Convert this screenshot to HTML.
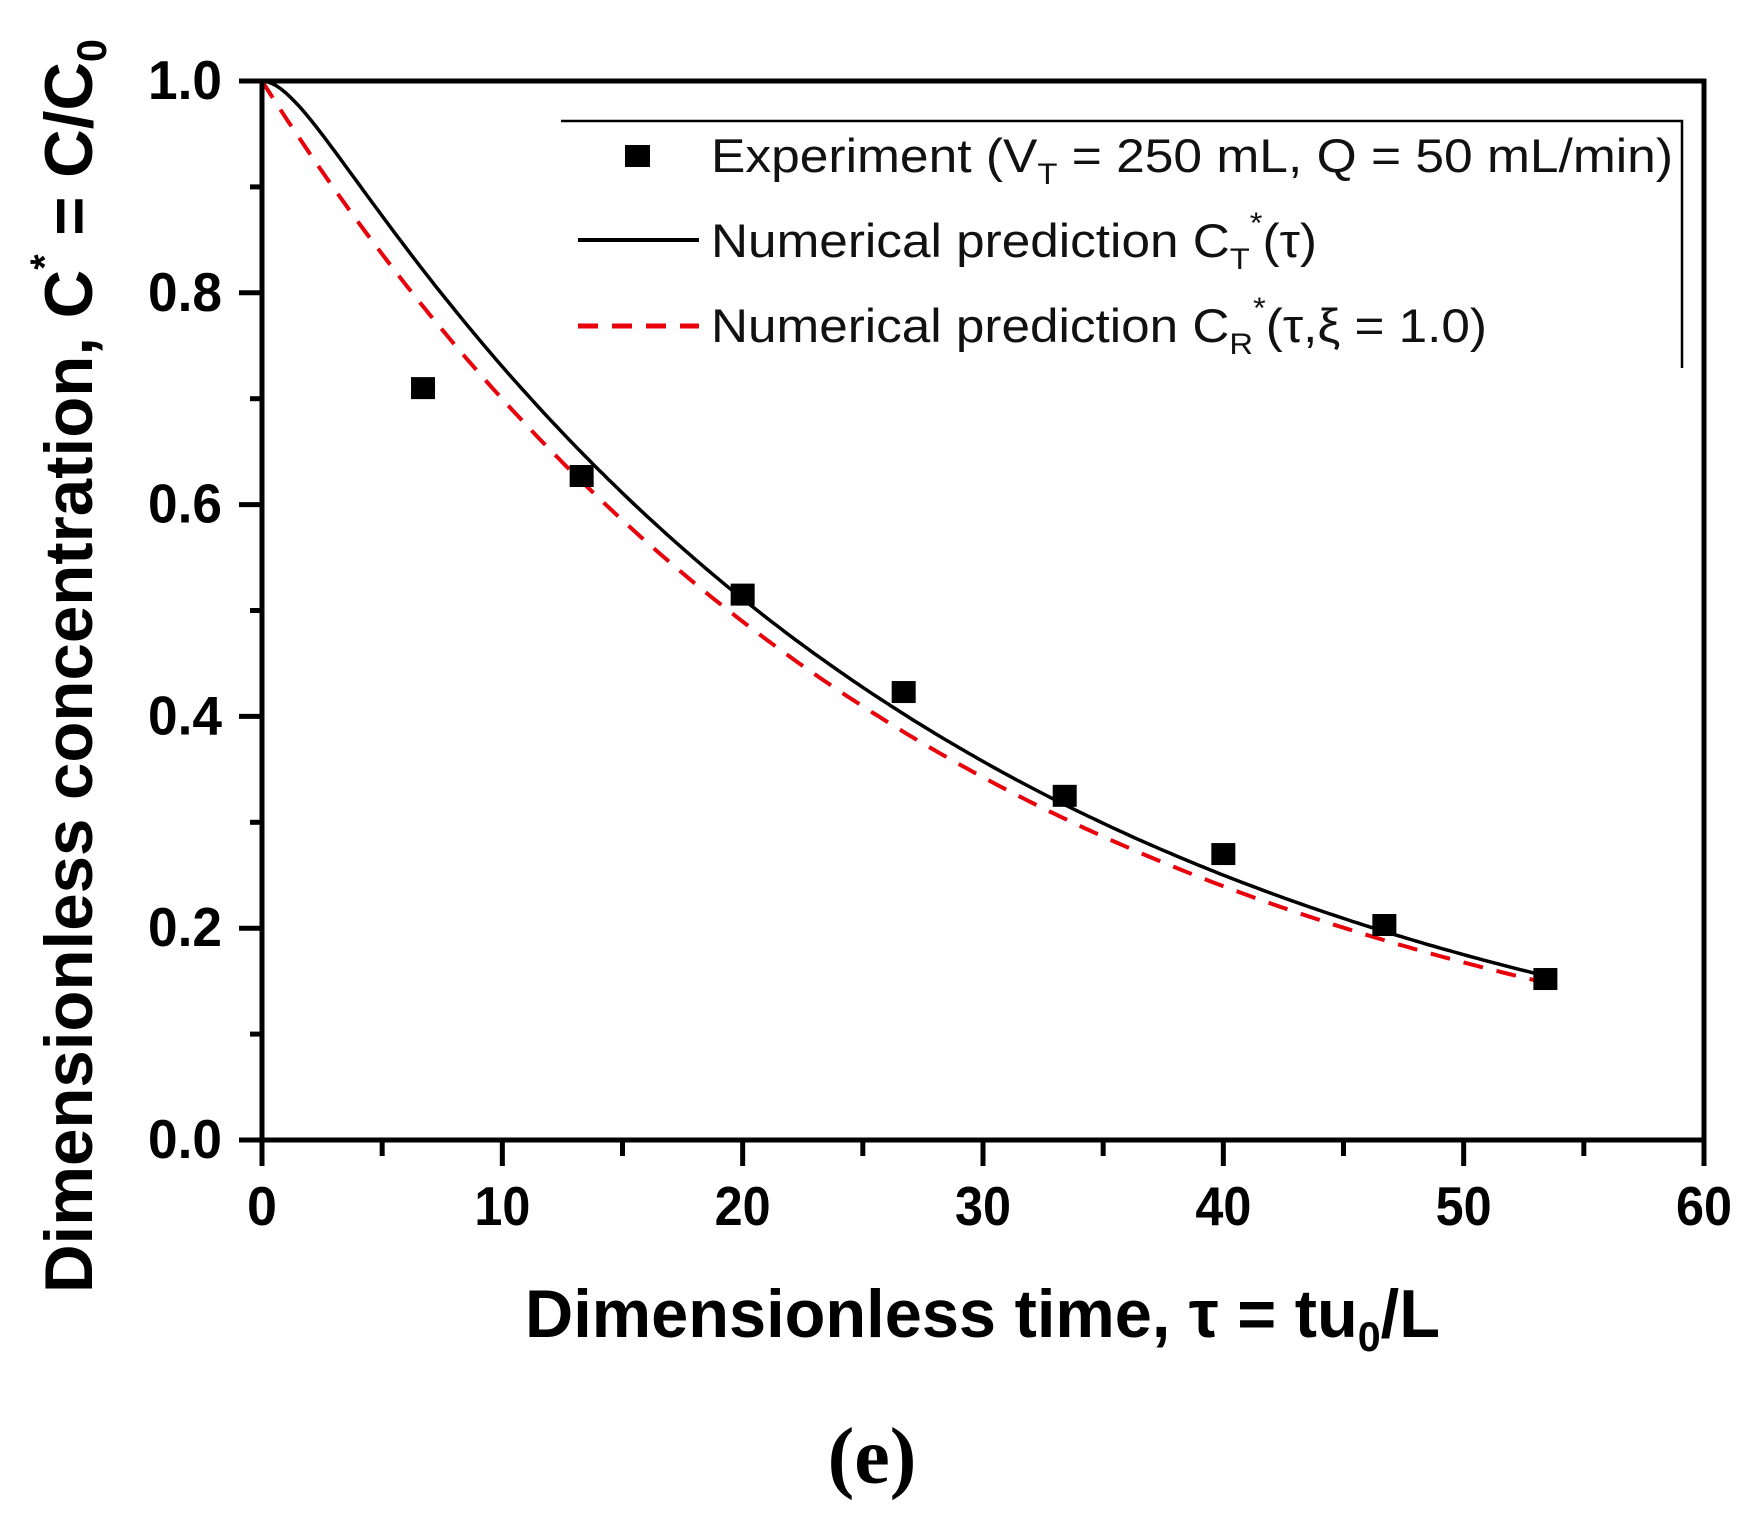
<!DOCTYPE html>
<html><head><meta charset="utf-8"><style>
html,body{margin:0;padding:0;background:#fff;}
svg{display:block;}
text{font-family:"Liberation Sans",Arial,sans-serif;}
</style></head><body>
<svg id="s" width="1760" height="1528" viewBox="0 0 1760 1528" xmlns="http://www.w3.org/2000/svg">
<rect width="1760" height="1528" fill="#fff"/>
<g id="ticks" stroke="#000" stroke-width="5"></g>
<path id="cR" fill="none" stroke="#e8000b" stroke-width="4" stroke-dasharray="20,14"/>
<path id="cT" fill="none" stroke="#000" stroke-width="3.5"/>
<g id="pts" fill="#000"></g>
<rect x="262" y="81" width="1442" height="1059" fill="none" stroke="#000" stroke-width="5"/>
<path d="M561 121 H1682 V368" fill="none" stroke="#000" stroke-width="2.5"/>
<rect x="625" y="145" width="25" height="22" fill="#000"/>
<line x1="578" y1="240" x2="699" y2="240" stroke="#000" stroke-width="4"/>
<line x1="578" y1="326" x2="699" y2="326" stroke="#e8000b" stroke-width="5" stroke-dasharray="20,14"/>
<g font-size="47" fill="#111">
<text x="711" y="172" textLength="962" lengthAdjust="spacingAndGlyphs">Experiment (V<tspan font-size="30" dy="12">T</tspan><tspan dy="-12"> = 250 mL, Q = 50 mL/min)</tspan></text>
<text x="711" y="257" textLength="606" lengthAdjust="spacingAndGlyphs">Numerical prediction C<tspan font-size="30" dy="12">T</tspan><tspan font-size="30" dy="-36">*</tspan><tspan dy="24">(τ)</tspan></text>
<text x="711" y="342" textLength="776" lengthAdjust="spacingAndGlyphs">Numerical prediction C<tspan font-size="30" dy="12">R</tspan><tspan font-size="30" dy="-36">*</tspan><tspan dy="24">(τ,ξ = 1.0)</tspan></text>
</g>
<g id="labels" font-size="55" font-weight="bold" fill="#000"></g>
<text x="525" y="1337" font-size="68" font-weight="bold" textLength="915" lengthAdjust="spacingAndGlyphs">Dimensionless time, τ = tu<tspan font-size="42" dy="14">0</tspan><tspan dy="-14">/L</tspan></text>
<text transform="translate(92,1293) rotate(-90)" x="0" y="0" font-size="68" font-weight="bold" textLength="1254" lengthAdjust="spacingAndGlyphs">Dimensionless concentration, C<tspan font-size="40" dy="-34">*</tspan><tspan dy="34"> = C/C</tspan><tspan font-size="42" dy="14">0</tspan></text>
<text x="872" y="1483" font-size="80" font-weight="bold" text-anchor="middle" style="font-family:'Liberation Serif',serif">(e)</text>
</svg>
<script>
var X=function(v){return 262+v*1442/60;},Y=function(v){return 1140-v*1059;};
var NS="http://www.w3.org/2000/svg";
function el(p,n,a,t){var e=document.createElementNS(NS,n);for(var k in a)e.setAttribute(k,a[k]);if(t)e.textContent=t;document.getElementById(p).appendChild(e);}
for(var i=0;i<=12;i++){var x=X(i*5),L=(i%2==0)?26:16;el("ticks","line",{x1:x,y1:1140,x2:x,y2:1140+L});}
for(var i=0;i<=10;i++){var y=Y(i*0.1),L=(i%2==0)?23:12;el("ticks","line",{x1:262,y1:y,x2:262-L,y2:y});}
for(var i=0;i<=6;i++)el("labels","text",{x:X(i*10),y:1225,"text-anchor":"middle",textLength:(i==0?30:56),lengthAdjust:"spacingAndGlyphs"},String(i*10));
for(var i=0;i<=5;i++)el("labels","text",{x:222,y:Y(i*0.2)+18,"text-anchor":"end",textLength:74,lengthAdjust:"spacingAndGlyphs"},(i*0.2).toFixed(1));
var dR="",dT="",a=1.2;
for(var t=0;t<=53.4;t+=0.2){var r=Math.exp(-t/28);var te=t-a*(1-Math.exp(-t/a));var s=Math.exp(-te/28);
 dR+=(t==0?"M":"L")+X(t).toFixed(1)+" "+Y(r).toFixed(1);
 dT+=(t==0?"M":"L")+X(t).toFixed(1)+" "+Y(s).toFixed(1);}
document.getElementById("cR").setAttribute("d",dR);
document.getElementById("cT").setAttribute("d",dT);
[[6.7,0.71],[13.3,0.627],[20,0.515],[26.7,0.423],[33.4,0.325],[40,0.27],[46.7,0.203],[53.4,0.152]].forEach(function(p){el("pts","rect",{x:X(p[0])-12,y:Y(p[1])-11,width:24,height:22});});
</script>
</body></html>
